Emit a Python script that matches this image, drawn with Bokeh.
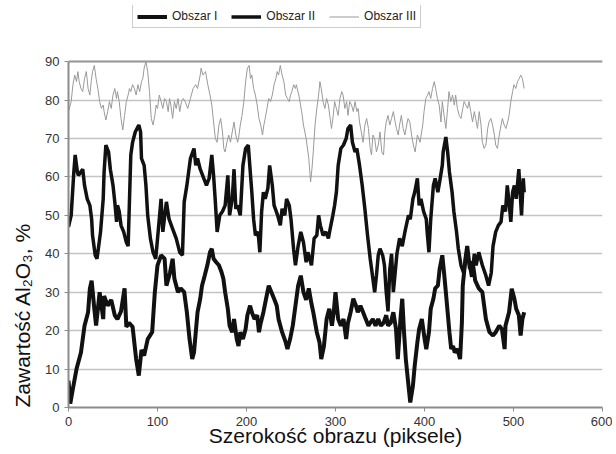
from bokeh.plotting import figure
from bokeh.models import Legend, LegendItem, Span, FixedTicker, Range1d, Title
from bokeh.embed import file_html
from bokeh.resources import INLINE

# ---- data ----
series_names = ["Obszar I", "Obszar II", "Obszar III"]

x_ticks = [0, 100, 200, 300, 400, 500, 600]
y_ticks = [0, 10, 20, 30, 40, 50, 60, 70, 80, 90]

obszar1_x = [0, 2, 5, 9, 14, 18, 22, 24, 26, 29, 31, 35, 39, 40, 44, 48, 52, 55, 59, 63, 65, 68, 72, 76, 79, 82, 85, 89, 94, 97,
             100, 104, 108, 110, 114, 117, 119, 123, 126, 130, 133, 136, 139, 141, 143, 145, 148, 150, 153, 156, 159, 161, 163, 166, 169, 172, 174, 176, 179, 181,
             184, 186, 189, 191, 193, 196, 199, 201, 204, 206, 209, 212, 214, 216, 219, 222, 225, 228, 231, 234, 236, 240, 244, 246, 249, 252, 255, 258, 261, 264,
             267, 270, 273, 275, 279, 282, 284, 287, 290, 293, 296, 298, 300, 303, 306, 309, 312, 314, 317, 320, 323, 325, 328, 331, 334, 337, 339, 342, 345, 348,
             351, 354, 357, 359, 362, 365, 368, 370, 373, 375, 377, 379, 382, 384, 387, 389, 392, 394, 397, 400, 402, 405, 407, 410, 412, 415, 417, 420, 422, 424,
             426, 428, 430, 432, 434, 437, 440, 442, 443, 446, 448, 451, 454, 457, 461, 465, 469, 473, 477, 480, 484, 487, 490, 491, 495, 498, 501, 503, 506, 508, 510, 512]
obszar1_y = [7, 1, 5, 10, 14.3, 21.3, 24.8, 30.9, 33, 25.7, 21.3, 30, 23, 29, 26.5, 28, 24, 23, 25, 31, 21, 22, 21, 12.6, 8.3, 15, 13.5, 17.8, 19.6, 30,
             37, 39.6, 38.7, 31.7, 35, 38.7, 33.5, 30, 31, 30, 24.8, 17.8, 12.6, 14.3, 19.6, 24.8, 28.3, 31.7, 34.3, 37, 40.4, 41.3, 38.7, 37.8, 37, 35.2, 33.5, 30, 25.7, 21.3,
             19.6, 23, 17.8, 16, 19.6, 17.8, 20.4, 24, 26.5, 24.8, 23, 24, 19.6, 22, 24.8, 28.3, 31.7, 30, 28.3, 26.5, 23, 19.6, 17, 15.2, 17.8, 21.3, 26.5, 31.7, 34.3, 30,
             28, 31, 27, 24.8, 19.6, 17, 12.6, 16, 23, 25.7, 21.3, 24.8, 30, 23, 21.3, 23, 17.8, 22, 24.8, 28.3, 26.5, 24.8, 26.5, 24.8, 23, 21.3, 22, 23, 21.3, 23,
             21.3, 22, 24, 21.3, 22, 24.8, 20.4, 12.6, 23, 28.3, 19.6, 12.6, 5.7, 1.3, 5.7, 10.9, 17, 20.4, 23, 18, 15.2, 19.6, 25.7, 28.3, 31, 31.7, 36, 39.6, 35, 30,
             24.8, 19.6, 15.2, 16, 14.3, 15.2, 12.6, 22, 31.7, 38.7, 42, 36, 38, 33, 31, 30, 23, 19.6, 18.7, 19.6, 21.3, 20.4, 15.2, 21.3, 24.8, 30.9, 28.3, 25.7, 24, 18.7, 23, 24.8]

obszar2_x = [0, 3, 6, 7.5, 10, 11, 13, 16, 18, 21, 24, 26, 27, 30, 32, 33, 36, 39, 40, 42, 45, 47, 50, 52, 54, 55, 57, 59, 62, 65,
             67, 70, 72, 75, 79, 81, 82, 85, 87, 89, 92, 95, 98, 102, 104, 106, 110, 113, 117, 121, 125, 128, 130, 133, 137, 141, 143, 145, 148, 152,
             155, 158, 161, 163, 165, 167, 170, 173, 176, 179, 181, 184, 186, 188, 190, 193, 196, 199, 202, 204, 206, 208, 210, 213, 215, 217, 219, 221, 224, 226,
             229, 231, 235, 238, 240, 243, 245, 248, 250, 253, 255, 258, 261, 264, 267, 269, 273, 276, 279, 281, 283, 286, 289, 292, 294, 297, 299, 301, 303, 306,
             309, 312, 314, 317, 319, 322, 324, 327, 330, 333, 336, 339, 342, 344, 346, 348, 350, 353, 355, 357, 359, 361, 363, 365, 367, 369, 372, 375, 378, 382,
             384, 387, 389, 392, 394, 396, 399, 402, 403, 405, 407, 410, 412, 415, 417, 420, 421, 424, 426, 428, 431, 433, 436, 438, 441, 444, 447, 450, 453, 456,
             458, 461, 465, 469, 472, 475, 477, 480, 483, 486, 488, 491, 493, 495, 497, 499, 501, 503, 506, 507, 509, 511, 512]
obszar2_y = [47, 50, 61.3, 65.7, 61.3, 60.4, 61, 62, 57.8, 54.3, 52.6, 49, 44.8, 39.6, 38.7, 40.4, 45.7, 54.3, 61.3, 68.3, 66.5, 62, 57.8, 53.5, 48.3, 52.6, 51, 47.4, 45.7, 43,
             42, 65.7, 69, 71.7, 73.5, 71.7, 64.8, 63, 57.8, 50, 44, 40.4, 38.7, 49, 54.3, 45.7, 53.5, 49, 46.5, 44, 40.4, 39.6, 53.5, 57.8, 64.8, 67.4, 63, 64.8, 62, 59.6,
             57.8, 59.6, 65.7, 60.4, 53.5, 45.7, 50, 51, 52.6, 60.4, 50, 54.3, 62, 51.7, 52.6, 50, 63, 67.4, 68.3, 62, 56, 49, 44.8, 45.7, 40.4, 51, 56, 54.3, 57, 63,
             57.8, 52.6, 50, 47.4, 51.7, 50, 54.3, 52.6, 49, 41, 37, 42, 45.7, 43, 37.8, 40.4, 37, 44, 44.8, 50, 47.4, 44.8, 45.7, 44, 46.5, 50, 52.6, 56, 63, 67.4,
             68.3, 70, 72.6, 73.5, 69, 66.5, 67.4, 63, 57.8, 51.7, 44.8, 38.7, 33.5, 30, 34.3, 39.6, 41.3, 39.6, 37, 30, 25, 36, 40, 30, 35, 40, 44, 42, 45.7, 50,
             49, 54.3, 56, 59.6, 52.6, 54.3, 51, 49, 45.7, 40.4, 49, 57.8, 59.6, 56, 58.7, 63, 66.5, 70.4, 66.5, 61.3, 56, 51, 45.7, 41.3, 37, 35, 40, 38, 34, 40,
             37, 40.4, 37, 34.3, 31.7, 35, 42, 45.7, 47.4, 48.3, 52.6, 51, 57.8, 53.5, 48.3, 56, 57.8, 54.3, 62, 57.8, 50, 59.6, 56]

obszar3_x = [0, 3, 5, 7, 9, 10.5, 12, 14, 16, 18, 20, 22, 24, 25.5, 27, 29, 31, 33, 35, 37, 39, 40, 42, 44, 46, 48, 50, 52, 54, 55,
             57, 59, 61, 63, 65, 67, 68.5, 70, 72, 74, 76, 78, 80, 82, 83.5, 85, 87, 89, 91, 93, 95, 97, 98.5, 100, 102, 104, 106, 108, 110, 112,
             113.5, 115, 117, 119, 121, 123, 125, 127, 129, 131, 134, 137, 140, 143, 145, 148, 149, 151, 154, 156.5, 159, 161, 163, 165, 167, 169, 171, 173, 174.5, 176,
             178, 180, 182, 184, 186, 188, 190, 191, 193, 195, 197, 199, 201, 203, 204.5, 206, 208, 210, 212, 214, 216, 218, 219.5, 221, 223, 225, 227, 229, 231, 233,
             234.5, 236, 238, 240, 242, 244, 246, 248, 249.5, 251, 253, 255, 256, 259, 262, 264, 267, 268, 270, 272, 273.5, 275, 277, 279, 281, 282.5, 284, 286,
             288, 290, 292, 294, 295.5, 297.5, 299, 301, 303, 305, 307, 308.5, 310.5, 312.5, 314, 316, 318, 320, 322, 324, 325.5, 327, 329, 331, 333, 335, 337, 339,
             340.5, 342, 344, 346, 348, 350, 352, 354, 355.5, 357, 359, 361, 363, 365, 367, 368.5, 370.5, 372, 374, 376, 378, 380, 381.5, 383.5, 385.5, 387.5, 389.5, 392,
             395, 398, 399.5, 401.5, 403.5, 405, 407, 409, 411, 412.5, 414.5, 416.5, 418.5, 420, 422, 424, 426, 427.5, 429.5, 431.5, 433.5, 435, 437, 439, 441, 443,
             444.5, 446.5, 448.5, 450, 452, 454, 456, 457.5, 459.5, 461.5, 463.5, 465, 467, 469, 471, 472.5, 474.5, 476.5, 478.5, 480, 482, 484, 486, 487.5, 489.5, 491.5,
             493.5, 495, 497, 499, 500.5, 502.5, 504.5, 506.5, 508, 510, 512]
obszar3_y = [77, 79.6, 84, 86.5, 84.8, 87.4, 84.8, 83, 82.2, 85.6, 87.4, 83, 81.3, 84.8, 87.4, 89, 85.6, 83, 79.6, 77.8, 78.7, 77, 74.8, 77, 79.6, 77.8, 81.3, 83, 80.4, 82.2,
             79.6, 75.2, 72.2, 76, 79.6, 81.3, 83, 82.2, 84, 83, 81.3, 84, 82.2, 84.8, 85.6, 88.3, 90, 87.4, 82.2, 75.2, 73.5, 76, 78.7, 77.8, 81.3, 79.6, 77.8, 80.4, 79.6, 77,
             80.4, 78.7, 75.2, 79.6, 77.8, 80.4, 77, 79.6, 80.4, 79.6, 77.8, 80.4, 83, 84, 83, 86.5, 88.3, 86.5, 87.4, 84, 81.3, 78.7, 74.3, 70, 69, 73.5, 75.2, 71.7, 67.4, 66.5,
             69, 70.9, 69, 71.7, 74.3, 70.9, 69, 70, 73.5, 76, 79.6, 84.8, 88.3, 89, 85.6, 86.5, 83, 81.3, 78.7, 75.2, 73.5, 70.9, 73.5, 75.2, 77.8, 80.4, 79.6, 81.3, 84, 85.6,
             87.4, 86.5, 89, 86.5, 84.8, 81.3, 80.4, 79.6, 81.3, 82.2, 84, 83, 84, 81, 77, 73.5, 70, 68.3, 64.8, 58.7, 62, 66.5, 73.5, 77.8, 81.3, 84.8, 83, 79.6,
             77.8, 80.4, 78.7, 75.2, 72.6, 76, 79.6, 77.8, 76, 80.4, 82.2, 81.3, 77.8, 79.6, 76, 79.6, 78.7, 77, 79.6, 77, 77.8, 74.3, 71.7, 69, 73.5, 75.2, 72.6, 67.4,
             65.7, 70.9, 70, 66.5, 68.3, 71.7, 66.5, 65.7, 71.7, 74.3, 76, 73.5, 75.2, 77, 74.3, 72.6, 70.9, 73.5, 76, 72.6, 70.9, 73.5, 75.2, 74.3, 70.9, 68.3, 66.5, 70.9,
             69, 73.5, 77, 80.4, 81.3, 82.2, 80.4, 83, 84.8, 83, 80.4, 78.7, 74.3, 79.6, 76, 72.6, 77.8, 82.2, 79.6, 81.3, 78.7, 81.3, 77.8, 76, 75.2, 77.8,
             79.6, 78.7, 77.8, 79.6, 77, 74.3, 77, 75.2, 72.6, 77, 73.5, 69, 67.4, 68.3, 72.6, 74.3, 75.2, 73.5, 70.9, 68.3, 67.4, 70.9, 73.5, 75.2, 73.5, 72.6,
             74.3, 76, 79.6, 82.2, 84, 83, 84.8, 85.6, 86.5, 85.6, 83]

FONT = "Liberation Sans"

# frame extends above 90 so that the legend sits inside it
p = figure(width=612, height=452, x_range=Range1d(0, 600), y_range=Range1d(0, 104.6),
           output_backend="svg", toolbar_location=None,
           min_border_left=68, min_border_right=10, min_border_top=5, min_border_bottom=45)

p.outline_line_color = None
p.background_fill_color = "white"
p.xgrid.grid_line_color = None
p.ygrid.grid_line_color = "#c4c4c4"
p.ygrid.grid_line_width = 1.5

for ax in (p.xaxis[0], p.yaxis[0]):
    ax.axis_line_color = "#8c8c8c"
    ax.axis_line_width = 2
    ax.major_tick_line_color = "#8c8c8c"
    ax.major_tick_out = 4
    ax.major_tick_in = 0
    ax.minor_tick_line_color = None
    ax.major_label_text_font = FONT
    ax.major_label_text_font_size = "13px"
    ax.major_label_text_color = "#333333"
    ax.axis_label_text_font = FONT
    ax.axis_label_text_font_size = "21px"
    ax.axis_label_text_font_style = "normal"
    ax.axis_label_text_color = "#111111"

p.yaxis.major_label_standoff = 5
p.xaxis.major_label_standoff = 5
p.xaxis.axis_label_standoff = -5

p.yaxis.bounds = (0, 90)
p.xaxis.ticker = FixedTicker(ticks=x_ticks)
p.yaxis.ticker = FixedTicker(ticks=y_ticks)
p.xaxis.axis_label = "Szerokość obrazu (piksele)"

ytitle = Title(text="Zawartość Al\u2082O\u2083, %", align="left", offset=0, standoff=17,
               text_font=FONT, text_font_size="21px", text_font_style="normal",
               text_color="#111111")
p.add_layout(ytitle, "left")

top = Span(location=90, dimension="width", line_color="#9a9a9a", line_width=2)
p.add_layout(top)

r3 = p.line(obszar3_x, obszar3_y, line_color="#9a9a9a", line_width=1)
r2 = p.line(obszar2_x, obszar2_y, line_color="#111111", line_width=3.5)
r1 = p.line(obszar1_x, obszar1_y, line_color="#111111", line_width=4)

legend = Legend(items=[LegendItem(label=series_names[0], renderers=[r1]),
                       LegendItem(label=series_names[1], renderers=[r2]),
                       LegendItem(label=series_names[2], renderers=[r3])],
                orientation="horizontal", location=(64, 379))
legend.label_text_font = FONT
legend.label_text_font_size = "12px"
legend.label_text_color = "#222222"
legend.glyph_width = 30
legend.glyph_height = 13
legend.label_standoff = 5
legend.label_width = 0
legend.spacing = 14
legend.padding = 4
legend.margin = 0
legend.border_line_color = "#9a9a9a"
legend.border_line_width = 1
legend.background_fill_alpha = 1
p.add_layout(legend)

open("out.html", "w").write(file_html(p, INLINE))
